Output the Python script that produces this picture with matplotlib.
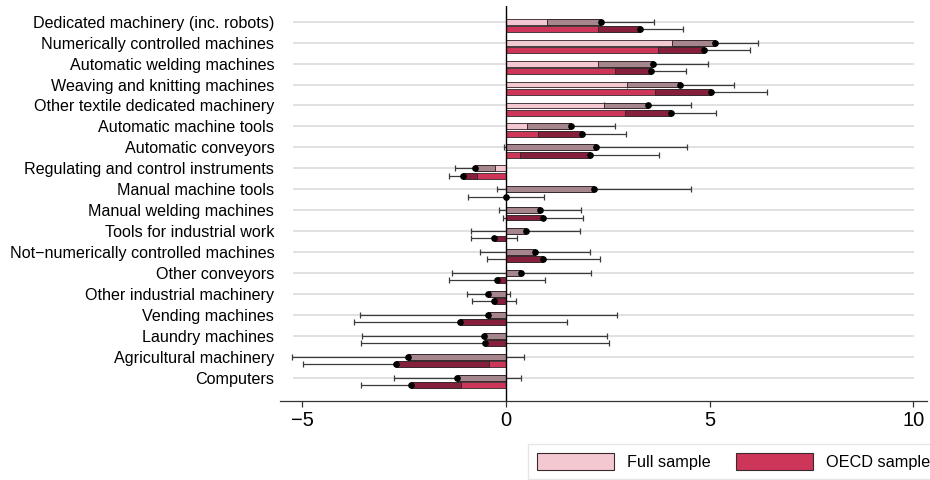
import numpy as np
import matplotlib
matplotlib.use("Agg")
import matplotlib.pyplot as plt
from matplotlib.patches import Patch

plt.rcParams['font.family'] = ['Liberation Sans', 'DejaVu Sans']

categories = [
    "Dedicated machinery (inc. robots)",
    "Numerically controlled machines",
    "Automatic welding machines",
    "Weaving and knitting machines",
    "Other textile dedicated machinery",
    "Automatic machine tools",
    "Automatic conveyors",
    "Regulating and control instruments",
    "Manual machine tools",
    "Manual welding machines",
    "Tools for industrial work",
    "Not\u2212numerically controlled machines",
    "Other conveyors",
    "Other industrial machinery",
    "Vending machines",
    "Laundry machines",
    "Agricultural machinery",
    "Computers",
]

# point estimates and half-width of the confidence interval
full_est = [2.32, 5.13, 3.60, 4.28, 3.48, 1.60, 2.20, -0.76, 2.15, 0.83,
            0.48, 0.70, 0.38, -0.43, -0.43, -0.53, -2.41, -1.20]
full_ci = [1.31, 1.06, 1.35, 1.31, 1.07, 1.08, 2.24, 0.50, 2.38, 1.01,
           1.33, 1.35, 1.71, 0.52, 3.15, 3.00, 2.84, 1.56]
oecd_est = [3.30, 4.86, 3.55, 5.03, 4.04, 1.86, 2.05, -1.06, 0.0, 0.90,
            -0.30, 0.92, -0.22, -0.30, -1.12, -0.51, -2.70, -2.33]
oecd_ci = [1.05, 1.13, 0.88, 1.38, 1.11, 1.08, 1.71, 0.35, 0.94, 0.98,
           0.57, 1.38, 1.17, 0.54, 2.61, 3.05, 2.29, 1.23]

series = [
    ("Full sample", full_est, full_ci, "#f3c8d1", "#a5868d", 0.0),
    ("OECD sample", oecd_est, oecd_ci, "#cd3559", "#861f3c", 0.35),
]

fig = plt.figure(figsize=(9.3, 4.8), dpi=100)
ax = fig.add_axes([0.301, 0.165, 0.696, 0.8225])

y = np.arange(len(categories))
ax.hlines(y, -5.23, 10.02, color="#dcdcdc", lw=1.2, zorder=0)

h = 0.28
for name, est, ci, light, dark, off in series:
    est = np.array(est)
    ci = np.array(ci)
    yy = y + off
    # error bars behind bars
    ax.errorbar(est, yy, xerr=ci, fmt="none", ecolor="#3a3a3a", elinewidth=0.9,
                capsize=2.3, capthick=0.9, zorder=1)
    ax.barh(yy, est, height=h, color=light, edgecolor="#4a3a3e", lw=0.7, zorder=2)
    # darker part: from the CI bound nearer zero up to the estimate
    near = np.where(est > 0, est - ci, est + ci)
    near = np.where(near * est <= 0, 0, near)
    ax.barh(yy, est - near, left=near, height=h, color=dark,
            edgecolor="#3a2a2e", lw=0.7, zorder=3)
    ax.plot(est, yy, "o", color="black", ms=3.8, zorder=4)

ax.axvline(0, color="black", lw=1.0, zorder=5)

ax.set_xlim(-5.55, 10.34)
ax.set_ylim(len(categories) - 1 + 1.10, -0.75)
ax.set_xticks([-5, 0, 5, 10])
ax.set_yticks(y)
ax.set_yticklabels(categories, fontsize=11.6)
ax.tick_params(axis="y", length=0, pad=4)
ax.tick_params(axis="x", labelsize=14.5, length=4.3, width=0.9, color="#333333", pad=3)
for s in ["top", "right", "left"]:
    ax.spines[s].set_visible(False)
ax.spines["bottom"].set_color("#333333")
ax.spines["bottom"].set_linewidth(0.9)

handles = [Patch(facecolor=s[3], edgecolor="#3a2a2e", lw=0.8, label=s[0]) for s in series]
leg = fig.legend(handles=handles, loc="upper left", bbox_to_anchor=(0.568, 0.075),
                 ncol=2, fontsize=11.7, frameon=True, fancybox=False,
                 edgecolor="#e0e0e0", handlelength=4.7, handleheight=1.2,
                 handletextpad=0.8, columnspacing=1.6, borderpad=0.55,
                 borderaxespad=0)
leg.get_frame().set_linewidth(1.0)

fig.savefig("out.png", dpi=100)
